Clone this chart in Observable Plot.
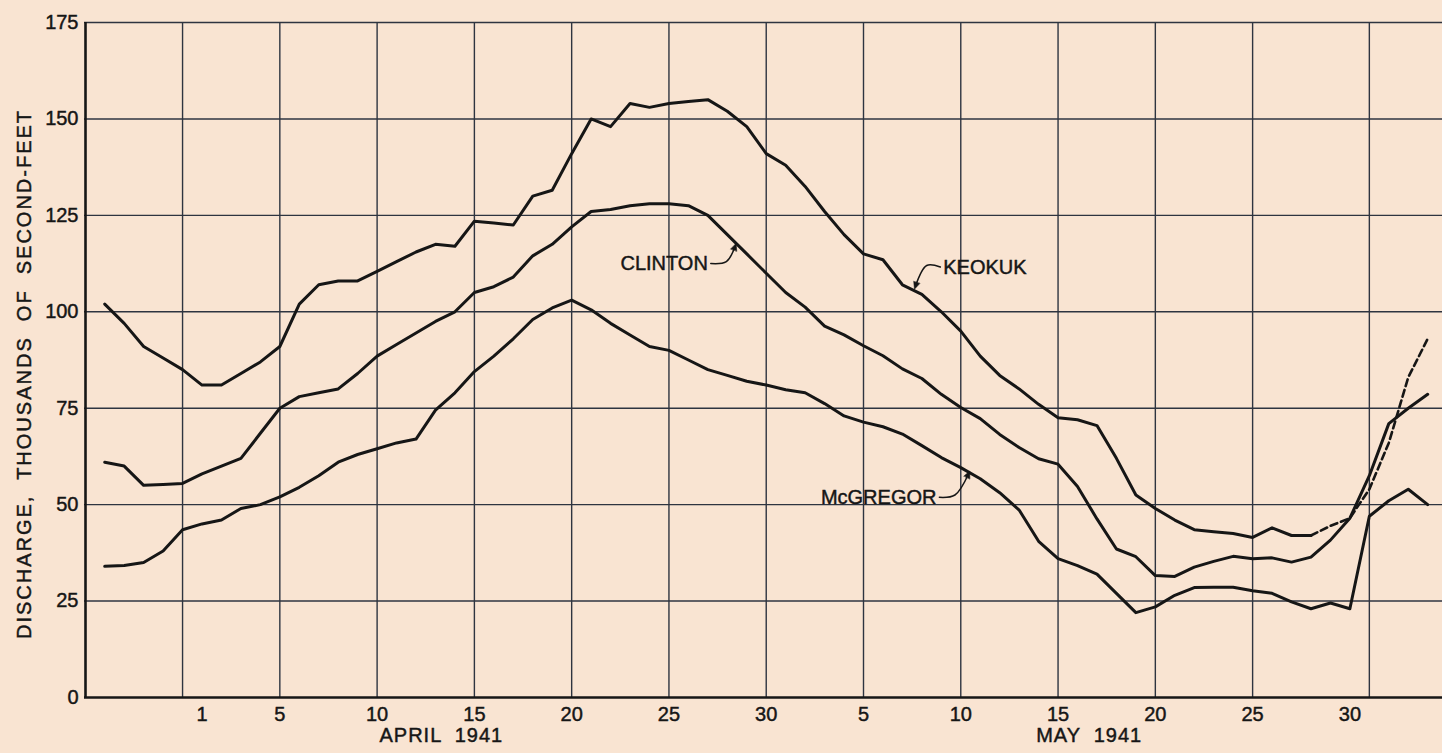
<!DOCTYPE html>
<html>
<head>
<meta charset="utf-8">
<script src="https://cdn.jsdelivr.net/npm/d3@7"></script>
<script src="https://cdn.jsdelivr.net/npm/@observablehq/plot@0.6"></script>
<style>
  html, body { margin: 0; padding: 0; background: #f9e4d2; }
  #chart { width: 1442px; height: 753px; overflow: hidden; }
  #chart svg { display: block; }
</style>
</head>
<body>
<div id="chart"></div>
<script>
// Day number: 0 = March 31, 1941; 1..30 = April 1..30; 31..61 = May 1..31; 62.. = June
const days = [-4, -3, -2, -1, 0, 1, 2, 3, 4, 5, 6, 7, 8, 9, 10, 11, 12, 13, 14, 15, 16, 17, 18, 19, 20,
  21, 22, 23, 24, 25, 26, 27, 28, 29, 30, 31, 32, 33, 34, 35, 36, 37, 38, 39, 40, 41, 42, 43, 44, 45,
  46, 47, 48, 49, 50, 51, 52, 53, 54, 55, 56, 57, 58, 59, 60, 61, 62, 63, 64];

// Discharge, thousands of second-feet
const keokuk = [102, 97, 91, 88, 85, 81, 81, 84, 87, 91, 102, 107, 108, 108, 110.5, 113, 115.5, 117.5, 117, 123.5,
  123, 122.5, 130, 131.5, 141, 150, 148, 154, 153, 154, 154.5, 155, 152, 148, 141, 138, 132.5, 126, 120, 115,
  113.5, 107, 104.5, 100, 95, 88.5, 83.5, 80, 76, 72.5, 72, 70.5, 62, 52.5, 49, 46, 43.5, 43, 42.5, 41.5,
  44, 42, 42, 44.5, 46.5, 54, 66, 83, 93];
const clinton = [61, 60, 55, 55.2, 55.5, 58, 60, 62, 68.5, 75, 78, 79, 80, 84, 88.5, 91.5, 94.5, 97.5, 100, 105,
  106.5, 109, 114.5, 117.5, 122, 126, 126.5, 127.5, 128, 128, 127.5, 125, 120, 115, 110, 105, 101.2, 96.3, 94, 91.2,
  88.6, 85.2, 82.7, 78.6, 75.2, 72.3, 68.2, 64.8, 61.9, 60.5, 54.7, 46.3, 38.5, 36.5, 31.6, 31.4, 33.8, 35.3, 36.6, 36,
  36.2, 35.1, 36.4, 40.8, 46.5, 57.5, 71, 75, 78.6];
const mcgregor = [34, 34.2, 35, 38, 43.5, 45, 46, 49, 50, 52, 54.5, 57.5, 61, 63, 64.5, 66, 67, 74.5, 79, 84.5,
  88.5, 93, 98, 101, 103, 100.5, 97, 94, 91, 90, 87.5, 85, 83.5, 82, 81, 79.8, 79, 76.2, 73, 71.4,
  70.2, 68.3, 65.3, 62.2, 59.6, 56.7, 53.1, 48.6, 40.5, 36, 34.2, 32, 27, 22, 23.5, 26.5, 28.5, 28.6, 28.6, 27.7,
  27, 24.8, 23, 24.5, 23, 47, 51, 54, 50];
const keokukEstimatedFrom = 58; // dashed (estimated) from May 28

// Axis ticks / grid
const xTickDays = [1, 5, 10, 15, 20, 25, 30, 35, 40, 45, 50, 55, 60];
const xTickLabels = ["1", "5", "10", "15", "20", "25", "30", "5", "10", "15", "20", "25", "30"];
const xGridDays = [0, 5, 10, 15, 20, 25, 30, 35, 40, 45, 50, 55, 61];
const yTicks = [0, 25, 50, 75, 100, 125, 150, 175];
const xDomain = [-5.04, 64.76];

const monthLabels = ["APRIL  1941", "MAY  1941"];
const monthDays = [13.3, 46.6];

const yTitle = "DISCHARGE,  THOUSANDS  OF  SECOND-FEET";

// Station labels
const labelText = ["CLINTON", "KEOKUK", "McGREGOR"];
const labelDay = [27.0, 39.1, 38.75];
const labelValue = [112.6, 111.5, 51.9];
const labelAnchor = ["end", "start", "end"];

// Leader lines (id, day, value)
const leaderId = ["c", "c", "c", "k", "k", "k", "m", "m", "m"];
const leaderDay = [27.15, 27.95, 28.4, 38.95, 38.25, 37.67, 38.9, 39.7, 40.4];
const leaderValue = [112.5, 113.0, 117.0, 111.6, 112.0, 106.6, 51.9, 52.5, 58.0];

// ---- build tables ----
const rows = (name, vals) => days.map((d, i) => ({station: name, day: d, value: vals[i]}));
const keokukRows = rows("KEOKUK", keokuk);
const keokukSolid = keokukRows.filter(r => r.day <= keokukEstimatedFrom);
const keokukDashed = keokukRows.filter(r => r.day >= keokukEstimatedFrom);
const clintonRows = rows("CLINTON", clinton);
const mcgregorRows = rows("McGREGOR", mcgregor);
const leaders = leaderId.map((id, i) => ({id, day: leaderDay[i], value: leaderValue[i]}));
const labels = labelText.map((t, i) => ({text: t, day: labelDay[i], value: labelValue[i], anchor: labelAnchor[i]}));

const ink = "#161616";
const grid = "#2e3440";
const font = "'Liberation Sans', Arial, sans-serif";

const chart = Plot.plot({
  width: 1442,
  height: 753,
  marginLeft: 84,
  marginRight: 0,
  marginTop: 22,
  marginBottom: 56,
  style: {background: "transparent", fontFamily: font, fontSize: "20px", color: ink, overflow: "visible"},
  x: {domain: xDomain, axis: null},
  y: {domain: [0, 175], axis: null},
  marks: [
    Plot.ruleY(yTicks.filter(v => v > 0), {stroke: grid, strokeWidth: 1.4}),
    Plot.ruleX(xGridDays, {stroke: grid, strokeWidth: 1.4}),
    Plot.ruleX([xDomain[0]], {stroke: ink, strokeWidth: 2.6, dx: 1}),
    Plot.ruleY([0], {stroke: ink, strokeWidth: 2.6}),
    Plot.line(mcgregorRows, {x: "day", y: "value", stroke: ink, strokeWidth: 3}),
    Plot.line(clintonRows, {x: "day", y: "value", stroke: ink, strokeWidth: 3}),
    Plot.line(keokukSolid, {x: "day", y: "value", stroke: ink, strokeWidth: 3}),
    Plot.line(keokukDashed, {x: "day", y: "value", stroke: ink, strokeWidth: 2.6, strokeDasharray: "7,4"}),
    Plot.line(leaders, {x: "day", y: "value", z: "id", stroke: ink, strokeWidth: 1.5, curve: "catmull-rom", markerEnd: "arrow", className: "leader"}),
    Plot.text(labels.filter(d => d.anchor === "end"), {x: "day", y: "value", text: "text", textAnchor: "end", fontSize: 20, fill: ink, className: "lettering"}),
    Plot.text(labels.filter(d => d.anchor === "start"), {x: "day", y: "value", text: "text", textAnchor: "start", fontSize: 20, fill: ink, className: "lettering"}),
    Plot.axisX({ticks: xTickDays, tickFormat: d => xTickLabels[xTickDays.indexOf(d)], tickSize: 0, tickPadding: 9, fontSize: 20, label: null, className: "lettering"}),
    Plot.axisY({ticks: yTicks, tickSize: 0, tickPadding: 6, fontSize: 20, label: null, className: "lettering"}),
    Plot.text(monthLabels, {x: monthDays, text: d => d, frameAnchor: "bottom", dy: 44, fontSize: 20, fill: ink, className: "lettering months"}),
    Plot.text([yTitle], {text: d => d, frameAnchor: "left", textAnchor: "middle", rotate: -90, dx: -60, dy: 14, fontSize: 20, fill: ink, className: "ytitle lettering"})
  ]
});

document.getElementById("chart").appendChild(chart);
const svg = d3.select(chart);
svg.selectAll("text").style("white-space", "pre");
svg.selectAll(".lettering text").style("stroke", ink).style("stroke-width", "0.45px");
svg.selectAll(".ytitle text").attr("letter-spacing", "2px");
svg.selectAll(".months text").attr("letter-spacing", "1px");
// filled arrowheads for the label leaders
svg.selectAll("marker path").attr("d", "M-4,-3.2L3,0L-4,3.2Z").attr("fill", ink).attr("stroke", ink).attr("stroke-width", 0.5);
</script>
</body>
</html>
